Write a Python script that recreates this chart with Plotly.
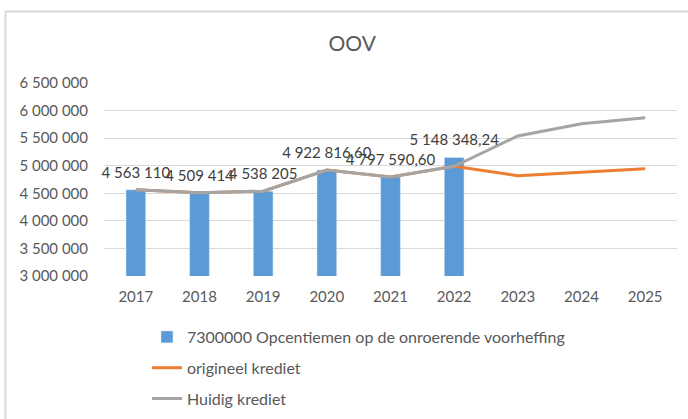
import plotly.graph_objects as go

# data
years = ["2017", "2018", "2019", "2020", "2021", "2022", "2023", "2024", "2025"]
opcentiemen = [4563110, 4509414, 4538205, 4922816.60, 4797590.60, 5148348.24]
origineel = [4563110, 4509414, 4538205, 4922816.60, 4797590.60, 4990000, 4820000, 4880000, 4945000]
huidig = [4563110, 4509414, 4538205, 4922816.60, 4797590.60, 4990000, 5540000, 5760000, 5870000]
y_ticks = [3000000, 3500000, 4000000, 4500000, 5000000, 5500000, 6000000, 6500000]

FONT = "Lato"
TXT = "#595959"


def fmt(v):
    # belgian style: space for thousands, comma for decimals
    if float(v).is_integer():
        return f"{int(v):,}".replace(",", " ")
    s = f"{v:,.2f}"
    whole, dec = s.split(".")
    return whole.replace(",", " ") + "," + dec


fig = go.Figure()
fig.add_trace(go.Bar(
    x=years[:len(opcentiemen)], y=opcentiemen,
    name="7300000 Opcentiemen op de onroerende voorheffing",
    marker_color="#5B9BD5", width=0.31,
    legendgroup="a",
))
fig.add_trace(go.Scatter(
    x=years, y=origineel, mode="lines", name="origineel krediet",
    line=dict(color="#ED7D31", width=3), legendgroup="b",
))
fig.add_trace(go.Scatter(
    x=years, y=huidig, mode="lines", name="Huidig krediet",
    line=dict(color="#A5A5A5", width=3), legendgroup="c",
))
# data labels above the bars (invisible markers push the text up)
fig.add_trace(go.Scatter(
    x=years[:len(opcentiemen)], y=opcentiemen, mode="markers+text",
    text=[fmt(v) for v in opcentiemen], textposition="top center",
    marker=dict(size=12, opacity=0), showlegend=False, hoverinfo="skip",
    textfont=dict(family=FONT, size=15, color="#404040"), cliponaxis=False,
))

# light border round the chart area
fig.add_shape(
    type="rect", xref="paper", yref="paper",
    x0=-0.172, x1=1.05, y0=-0.8, y1=1.37,
    line=dict(color="#D9D9D9", width=2), layer="below",
)

fig.update_layout(
    width=688, height=419,
    margin=dict(l=104, r=11, t=83, b=143, autoexpand=False),
    paper_bgcolor="white", plot_bgcolor="white",
    separators=", ",
    font=dict(family=FONT, size=15, color=TXT),
    title=dict(text="OOV", x=0.512, xref="container", y=0.895, yref="container",
               xanchor="center", yanchor="middle",
               font=dict(family=FONT, size=21, color=TXT)),
    showlegend=True,
    legend=dict(
        x=0.075, y=-0.228, xanchor="left", yanchor="top",
        orientation="v", traceorder="grouped", tracegroupgap=7,
        font=dict(family=FONT, size=16, color=TXT),
        bgcolor="rgba(0,0,0,0)",
    ),
    xaxis=dict(
        type="category", range=[-0.5, len(years) - 0.5],
        showgrid=False, showline=False, ticks="", automargin=False,
        ticklabelstandoff=10, tickfont=dict(family=FONT, size=15, color=TXT),
    ),
    yaxis=dict(
        range=[3000000, 6500000], tickvals=y_ticks, tickformat=",d",
        showgrid=True, gridcolor="#D9D9D9", gridwidth=1,
        zeroline=False, showline=False, ticks="", automargin=False,
        ticklabelstandoff=15, tickfont=dict(family=FONT, size=15, color=TXT),
    ),
    bargap=0.69,
)

# page body has a default 8px margin, drop it so the figure sits at 0,0
fig.write_html("out.html", config={"displayModeBar": False},
               post_script="document.body.style.margin='0';")
